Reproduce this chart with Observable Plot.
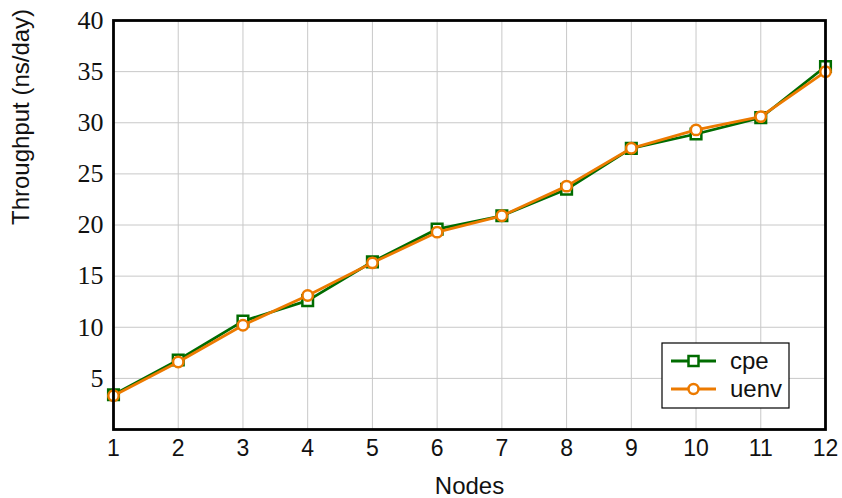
<!DOCTYPE html>
<html>
<head>
<meta charset="utf-8">
<script src="https://cdn.jsdelivr.net/npm/d3@7"></script>
<script src="https://cdn.jsdelivr.net/npm/@observablehq/plot@0.6"></script>
<style>
  html, body { margin: 0; padding: 0; background: #fff; }
  #chart { width: 842px; height: 498px; }
</style>
</head>
<body>
<div id="chart"></div>
<script>
const nodes = [1, 2, 3, 4, 5, 6, 7, 8, 9, 10, 11, 12];
const cpe  = [3.4, 6.8, 10.6, 12.6, 16.4, 19.6, 20.9, 23.5, 27.5, 28.9, 30.5, 35.5];
const uenv = [3.3, 6.6, 10.2, 13.1, 16.3, 19.3, 20.9, 23.8, 27.5, 29.3, 30.6, 35.0];
const yTicks = [5, 10, 15, 20, 25, 30, 35, 40];
const seriesNames = ["cpe", "uenv"];

const green = "#006c00";
const orange = "#ec7a00";
const sans = "Liberation Sans, Arial, sans-serif";
const serif = "'Liberation Serif', 'DejaVu Serif', serif";

const cpeData = nodes.map((n, i) => ({x: n, y: cpe[i]}));
const uenvData = nodes.map((n, i) => ({x: n, y: uenv[i]}));

const plot = Plot.plot({
  width: 842,
  height: 498,
  marginLeft: 113,
  marginRight: 17,
  marginTop: 20,
  marginBottom: 69,
  style: {background: "#fff", overflow: "visible"},
  x: {domain: [1, 12]},
  y: {domain: [0, 40]},
  marks: [
    Plot.gridX(nodes, {stroke: "#c8c8c8", strokeOpacity: 1, strokeWidth: 1}),
    Plot.gridY(yTicks, {stroke: "#c8c8c8", strokeOpacity: 1, strokeWidth: 1}),
    Plot.axisX(nodes, {tickSize: 0, tickPadding: 10, fontSize: 23, fontFamily: sans, fill: "#111", label: null}),
    Plot.axisY(yTicks, {tickSize: 0, tickPadding: 10, fontSize: 26, fontFamily: serif, fill: "#111", label: null, tickFormat: d => String(d)}),
    Plot.line(cpeData, {x: "x", y: "y", stroke: green, strokeWidth: 2.8}),
    Plot.dot(cpeData, {x: "x", y: "y", symbol: "square", r: 6, stroke: green, strokeWidth: 2.5, fill: "white"}),
    Plot.line(uenvData, {x: "x", y: "y", stroke: orange, strokeWidth: 2.8}),
    Plot.dot(uenvData, {x: "x", y: "y", symbol: "circle", r: 5.2, stroke: orange, strokeWidth: 2.5, fill: "white"}),
    Plot.frame({stroke: "black", strokeWidth: 2.8}),
    Plot.text(["Nodes"], {frameAnchor: "bottom", lineAnchor: "middle", dy: 57, fontSize: 24, fontFamily: sans, fill: "#111"}),
    Plot.text(["Throughput (ns/day)"], {frameAnchor: "left", dx: -92, rotate: -90, fontSize: 24, fontFamily: sans, fill: "#111"})
  ]
});

document.getElementById("chart").appendChild(plot);

const svg = d3.select(plot);
svg.selectAll('g[aria-label="y-axis tick label"] text').style("font-family", serif).style("font-size", "26px");
svg.selectAll('g[aria-label="x-axis tick label"] text').style("font-family", sans).style("font-size", "23px");

// Legend box (inside plot, lower right)
const lg = svg.append("g").attr("font-family", sans).attr("font-size", 24).attr("text-anchor", "start");
lg.append("rect").attr("x", 662).attr("y", 343).attr("width", 127).attr("height", 65)
  .attr("fill", "white").attr("stroke", "black").attr("stroke-width", 1.2);
const entries = [
  {name: seriesNames[0], color: green, sym: "square", cy: 361},
  {name: seriesNames[1], color: orange, sym: "circle", cy: 389}
];
entries.forEach(e => {
  lg.append("line").attr("x1", 671).attr("x2", 716).attr("y1", e.cy).attr("y2", e.cy)
    .attr("stroke", e.color).attr("stroke-width", 2.8);
  if (e.sym === "square") {
    lg.append("rect").attr("x", 688.5).attr("y", e.cy - 5).attr("width", 10).attr("height", 10)
      .attr("fill", "white").attr("stroke", e.color).attr("stroke-width", 2.5);
  } else {
    lg.append("circle").attr("cx", 693.5).attr("cy", e.cy).attr("r", 5)
      .attr("fill", "white").attr("stroke", e.color).attr("stroke-width", 2.5);
  }
  lg.append("text").attr("x", 730).attr("y", e.cy).attr("dy", "0.35em").attr("fill", "#111").text(e.name);
});
</script>
</body>
</html>
